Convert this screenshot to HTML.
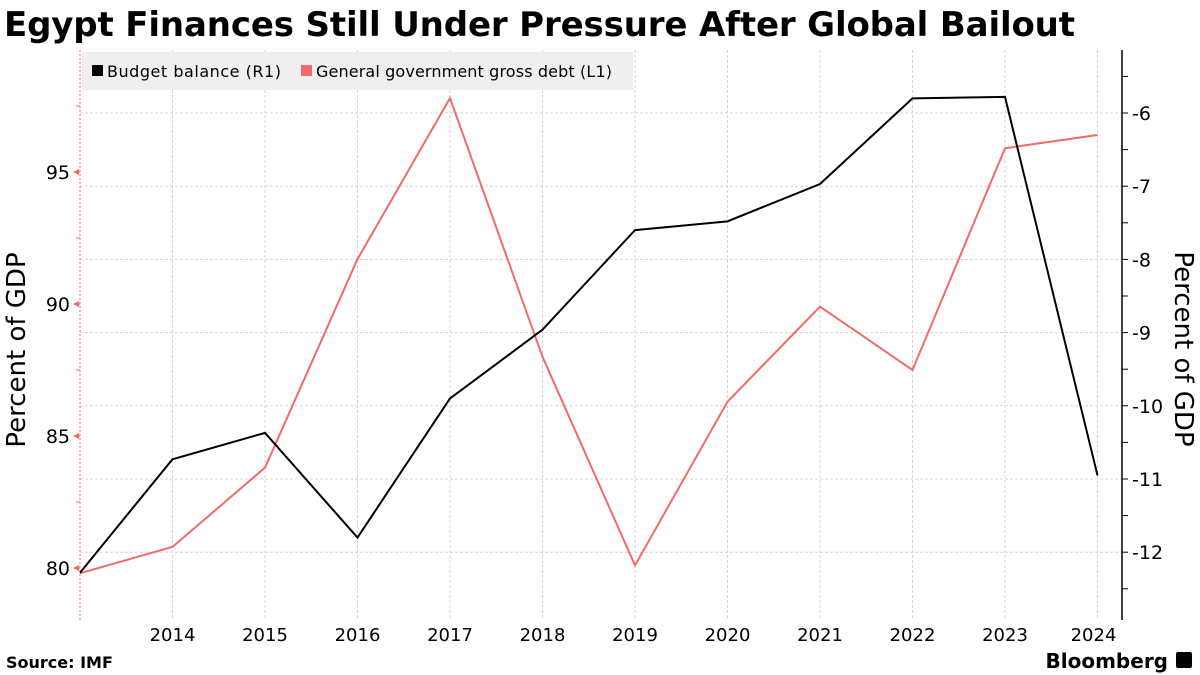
<!DOCTYPE html>
<html><head><meta charset="utf-8"><style>
body{margin:0;background:#fff;width:1200px;height:675px;overflow:hidden;font-family:"DejaVu Sans","Liberation Sans",sans-serif}
svg{display:block}
</style></head><body>
<svg id="c" width="1200" height="675">
<text x="4" y="36" font-size="34" font-weight="bold" fill="#000" textLength="1071">Egypt Finances Still Under Pressure After Global Bailout</text>
<text x="6" y="668" font-size="16" font-weight="bold">Source: IMF</text>
<text x="1168" y="668" font-size="20" font-weight="bold" text-anchor="end">Bloomberg</text>
<rect x="1176" y="652" width="16" height="16" rx="2" fill="#000"/>
<g id="grid"></g><g id="axes"></g><g id="series"></g>
<rect x="82" y="52" width="551" height="38" fill="#efefef"/>
<rect x="92" y="65" width="11" height="11" fill="#000"/>
<text x="107" y="77" font-size="16" textLength="174">Budget balance (R1)</text>
<rect x="301" y="65" width="11" height="11" fill="#f26a6a"/>
<text x="316" y="77" font-size="16" textLength="296">General government gross debt  (L1)</text>
<text transform="translate(25,350) rotate(-90)" font-size="26" text-anchor="middle">Percent of GDP</text>
<text transform="translate(1175,349) rotate(90)" font-size="26" text-anchor="middle">Percent of GDP</text>
</svg>
<script>
const years=[2013,2014,2015,2016,2017,2018,2019,2020,2021,2022,2023,2024];
const yearLabels=["2014","2015","2016","2017","2018","2019","2020","2021","2022","2023","2024"];
const budget=[-12.28,-10.73,-10.37,-11.8,-9.9,-8.96,-7.6,-7.48,-6.97,-5.8,-5.78,-10.95];
const debt=[79.8,80.8,83.8,91.7,97.8,88.0,80.1,86.3,89.9,87.5,95.9,96.4];
const leftTicks=[80,85,90,95];
const rightTicks=[-6,-7,-8,-9,-10,-11,-12];
const NS="http://www.w3.org/2000/svg";
const x=y=>80+(y-2013)*92.5;
const yL=v=>568-(v-80)*26.4;
const yR=v=>113+(-6-v)*73.2;
function mk(p,t,a){const e=document.createElementNS(NS,t);for(const k in a)e.setAttribute(k,a[k]);document.getElementById(p).appendChild(e);return e;}
rightTicks.forEach(v=>{const l=mk('grid','line',{x1:80,x2:1122,y1:yR(v),y2:yR(v),stroke:'#d4d4d4','stroke-dasharray':'3,2'});

});
yearLabels.forEach(s=>{const X=x(+s);const l=mk('grid','line',{x1:X,x2:X,y1:50,y2:620,stroke:'#d4d4d4','stroke-dasharray':'3,2'});


const t=mk('axes','text',{x:X-(s==='2024'?4:0),y:641,'font-size':18,'text-anchor':'middle'});t.textContent=s;

});
const la=mk('axes','line',{x1:80,x2:80,y1:50,y2:620,stroke:'#f26a6a','stroke-dasharray':'2,2'});


for(let v=77.5;v<=100;v+=2.5){if(yL(v)<50||yL(v)>620)continue;const m=mk('axes','line',{x1:76,x2:80,y1:yL(v),y2:yL(v),stroke:'#f26a6a'});

}
leftTicks.forEach(v=>{const t=mk('axes','text',{x:70,y:yL(v)+7,'font-size':19,'text-anchor':'end'});t.textContent=v;


const p=mk('axes','path',{d:`M73 ${yL(v)} L79 ${yL(v)-3} L79 ${yL(v)+3}Z`,fill:'#f26a6a'});

});
const ra=mk('axes','line',{x1:1122,x2:1122,y1:50,y2:620,stroke:'#000','stroke-width':1.5});


for(let v=-5.5;v>=-12.5;v-=0.5){const m=mk('axes','line',{x1:1122,x2:1128,y1:yR(v),y2:yR(v),stroke:'#000'});

}
rightTicks.forEach(v=>{const t=mk('axes','text',{x:1132,y:yR(v)+7,'font-size':19});t.textContent='-'+(-v);

});
const pd=mk('series','polyline',{points:debt.map((v,i)=>x(years[i])+','+yL(v)).join(' '),fill:'none',stroke:'#f26a6a','stroke-width':2});


const pb=mk('series','polyline',{points:budget.map((v,i)=>x(years[i])+','+yR(v)).join(' '),fill:'none',stroke:'#000','stroke-width':2});


</script>
</body></html>
